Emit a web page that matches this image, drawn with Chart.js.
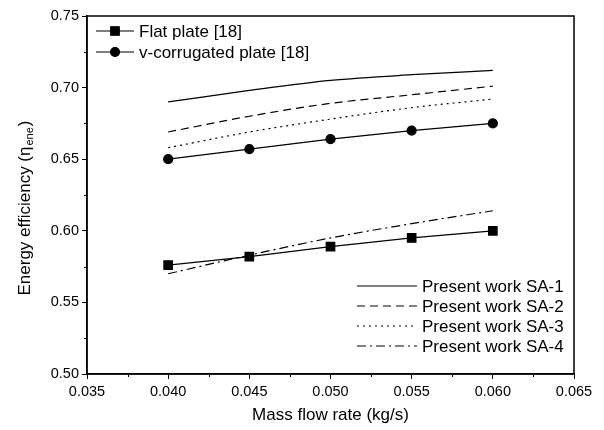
<!DOCTYPE html>
<html>
<head>
<meta charset="utf-8">
<script src="https://cdn.jsdelivr.net/npm/chart.js@4"></script>
<style>
  html, body { margin: 0; padding: 0; background: #fff; }
  #wrap { width: 604px; height: 430px; }
</style>
</head>
<body>
<div id="wrap"><canvas id="chart" width="604" height="430"></canvas></div>
<script>
// Mass flow rate (kg/s)
const flowRates = [0.040, 0.045, 0.050, 0.055, 0.060];

// Reference data [18]
const flatPlate = [0.576, 0.582, 0.589, 0.595, 0.600];
const vCorrugated = [0.650, 0.657, 0.664, 0.670, 0.675];

// Present work
const sa1 = [0.690, 0.698, 0.705, 0.709, 0.712];
const sa2 = [0.669, 0.680, 0.689, 0.695, 0.701];
const sa3 = [0.658, 0.669, 0.678, 0.686, 0.692];
const sa4 = [0.570, 0.583, 0.595, 0.605, 0.614];

const xMinorTicks = [0.0375, 0.0425, 0.0475, 0.0525, 0.0575, 0.0625];
const yMinorTicks = [0.525, 0.575, 0.625, 0.675, 0.725];

const FONT = '"Liberation Sans", Arial, sans-serif';
Chart.defaults.font.family = FONT;
Chart.defaults.color = '#000';

const toPoints = (ys) => ys.map((y, i) => ({ x: flowRates[i], y }));

const lineBase = {
    borderColor: '#000',
    backgroundColor: '#000',
    borderWidth: 1.2,
    fill: false,
};

const datasets = [
    { ...lineBase, label: 'Flat plate [18]', data: toPoints(flatPlate),
      pointStyle: 'rect', pointRadius: 6, tension: 0, legendGroup: 'top' },
    { ...lineBase, label: 'v-corrugated plate [18]', data: toPoints(vCorrugated),
      pointStyle: 'circle', pointRadius: 4.5, tension: 0, legendGroup: 'top' },
    { ...lineBase, label: 'Present work SA-1', data: toPoints(sa1),
      pointRadius: 0, cubicInterpolationMode: 'monotone', borderDash: [], legendGroup: 'bottom' },
    { ...lineBase, label: 'Present work SA-2', data: toPoints(sa2),
      pointRadius: 0, cubicInterpolationMode: 'monotone', borderDash: [8, 5], legendGroup: 'bottom' },
    { ...lineBase, label: 'Present work SA-3', data: toPoints(sa3),
      pointRadius: 0, cubicInterpolationMode: 'monotone', borderDash: [2, 4], legendGroup: 'bottom' },
    { ...lineBase, label: 'Present work SA-4', data: toPoints(sa4),
      pointRadius: 0, cubicInterpolationMode: 'monotone', borderDash: [9, 4, 2, 4], legendGroup: 'bottom' },
];

// Frame, minor ticks, y title with subscript, and the two in-plot legends
const decorations = {
    id: 'decorations',
    afterDraw(chart) {
        const ctx = chart.ctx;
        const { left, right, top, bottom } = chart.chartArea;
        const xs = chart.scales.x;
        const ys = chart.scales.y;

        ctx.save();
        ctx.strokeStyle = '#000';
        ctx.lineWidth = 1.5;
        ctx.strokeRect(left, top, right - left, bottom - top);

        // minor ticks
        ctx.lineWidth = 1;
        ctx.beginPath();
        xMinorTicks.forEach(v => {
            const px = Math.round(xs.getPixelForValue(v)) + 0.5;
            ctx.moveTo(px, bottom);
            ctx.lineTo(px, bottom + 3);
        });
        yMinorTicks.forEach(v => {
            const py = Math.round(ys.getPixelForValue(v)) + 0.5;
            ctx.moveTo(left, py);
            ctx.lineTo(left - 3, py);
        });
        ctx.stroke();

        // y axis title
        ctx.translate(25, 208);
        ctx.rotate(-Math.PI / 2);
        ctx.fillStyle = '#000';
        ctx.textBaseline = 'middle';
        const main = 'Energy efficiency (η';
        const sub = 'ene';
        ctx.font = '17px ' + FONT;
        const wMain = ctx.measureText(main).width;
        ctx.font = '11px ' + FONT;
        const wSub = ctx.measureText(sub).width;
        ctx.font = '17px ' + FONT;
        const wClose = ctx.measureText(')').width;
        let x0 = -(wMain + wSub + wClose + 2) / 2;
        ctx.textAlign = 'left';
        ctx.fillText(main, x0, 0);
        ctx.font = '11px ' + FONT;
        ctx.fillText(sub, x0 + wMain + 1, 5);
        ctx.font = '17px ' + FONT;
        ctx.fillText(')', x0 + wMain + wSub + 2, 0);
        ctx.restore();

        // legends
        const drawEntry = (ds, x1, x2, y) => {
            ctx.save();
            ctx.strokeStyle = '#000';
            ctx.lineWidth = ds.borderWidth;
            ctx.setLineDash(ds.borderDash || []);
            ctx.beginPath();
            ctx.moveTo(x1, y);
            ctx.lineTo(x2, y);
            ctx.stroke();
            ctx.setLineDash([]);
            if (ds.pointRadius > 0) {
                Chart.helpers.drawPoint(ctx, {
                    pointStyle: ds.pointStyle, radius: ds.pointRadius, rotation: 0,
                    borderWidth: 1,
                }, (x1 + x2) / 2, y);
                ctx.fillStyle = '#000';
                ctx.fill();
            }
            ctx.fillStyle = '#000';
            ctx.font = '17px ' + FONT;
            ctx.textAlign = 'left';
            ctx.textBaseline = 'middle';
            ctx.fillText(ds.label, x2 + 5, y + 1);
            ctx.restore();
        };

        const dsets = chart.data.datasets;
        const topRows = dsets.filter(d => d.legendGroup === 'top');
        topRows.forEach((ds, i) => drawEntry(ds, 96, 134, 31 + i * 21));
        const bottomRows = dsets.filter(d => d.legendGroup === 'bottom');
        bottomRows.forEach((ds, i) => drawEntry(ds, 357, 417, 286 + i * 20));
    }
};

new Chart(document.getElementById('chart'), {
    type: 'line',
    data: { datasets },
    options: {
        responsive: false,
        animation: false,
        layout: { padding: { top: 16, right: 30, left: 0, bottom: 0 } },
        plugins: {
            legend: { display: false },
            tooltip: { enabled: false },
        },
        scales: {
            x: {
                type: 'linear',
                min: 0.035,
                max: 0.065,
                afterFit: (s) => { s.height = 56; },
                border: { display: true, color: '#000', width: 1.5 },
                grid: { drawOnChartArea: false, drawTicks: true, tickLength: 5, color: '#000', tickWidth: 1 },
                ticks: {
                    stepSize: 0.005,
                    padding: 4,
                    color: '#000',
                    font: { size: 14.5 },
                    maxRotation: 0,
                    callback: (v) => v.toFixed(3),
                },
                title: {
                    display: true,
                    text: 'Mass flow rate (kg/s)',
                    font: { size: 17 },
                    color: '#000',
                    padding: { top: 1 },
                },
            },
            y: {
                min: 0.50,
                max: 0.75,
                afterFit: (s) => { s.width = 87; },
                border: { display: true, color: '#000', width: 1.5 },
                grid: { drawOnChartArea: false, drawTicks: true, tickLength: 5, color: '#000', tickWidth: 1 },
                ticks: {
                    stepSize: 0.05,
                    padding: 3,
                    color: '#000',
                    font: { size: 14.5 },
                    callback: (v) => v.toFixed(2),
                },
            },
        },
    },
    plugins: [decorations],
});
</script>
</body>
</html>
